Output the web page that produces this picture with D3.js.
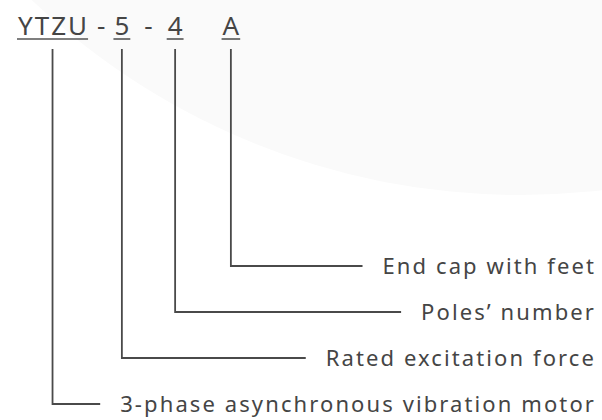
<!DOCTYPE html>
<html>
<head>
<meta charset="utf-8">
<script src="https://cdn.jsdelivr.net/npm/d3@7"></script>
<style>
  body { margin: 0; background: #fff; }
  svg { display: block; }
  text { font-family: "Noto Sans", "Open Sans", sans-serif; fill: #454545; }
</style>
</head>
<body>
<div id="chart"></div>
<script>
// parts of the model code, in the order they are written
const codeParts = ['YTZU', '-', '5', '-', '4', 'A'];
// which parts get an underline and a leader line
const codeIsField = [true, false, true, false, true, true];
// meaning of each field, from the last field (top row) to the first (bottom row)
const meanings = [
    'End cap with feet',
    "Poles\u2019 number",
    'Rated excitation force',
    '3-phase asynchronous vibration motor'
];

const width = 602;
const height = 420;
// space after each code part
const gapAfter = [10, 9, 15, 15, 40, 0];

const svg = d3.select('#chart')
    .append('svg')
        .attr('width', width)
        .attr('height', height);

// faint background disc
svg.append('circle')
    .attr('cx', 520)
    .attr('cy', -514)
    .attr('r', 709)
    .attr('fill', '#fafafa');

// rows of the explanations
const yRow = d3.scaleLinear()
    .domain([0, meanings.length - 1])
    .range([266, 404]);

// code line, laid out left to right
const codeG = svg.append('g');
const ls = 2;
let x = 18;
const fields = [];
codeParts.forEach((part, i) => {
    const t = codeG.append('text')
        .attr('x', x)
        .attr('y', 35)
        .attr('font-size', 26)
        .attr('letter-spacing', ls)
        .text(part);
    const w = t.node().getComputedTextLength() - ls;
    if (codeIsField[i]) {
        codeG.append('line')
            .attr('x1', x - 1).attr('x2', x + w + 1)
            .attr('y1', 39).attr('y2', 39)
            .attr('stroke', '#555')
            .attr('stroke-width', 1.6);
        fields.push(x + w / 2);
    }
    x += w + gapAfter[i];
});

const rightEdge = 596;
const linesG = svg.append('g');
const textG = svg.append('g');

// last field goes to the top row
fields.slice().reverse().forEach((fx, i) => {
    const y = yRow(i);
    const label = textG.append('text')
        .attr('x', rightEdge)
        .attr('y', y)
        .attr('dy', '0.35em')
        .attr('text-anchor', 'end')
        .attr('font-size', 22)
        .attr('letter-spacing', 2.1)
        .text(meanings[i]);
    const textStart = rightEdge - label.node().getComputedTextLength();
    linesG.append('path')
        .attr('d', d3.line()([[fx, 49], [fx, y], [textStart - 20, y]]))
        .attr('fill', 'none')
        .attr('stroke', '#4a4a4a')
        .attr('stroke-width', 1.8);
});
</script>
</body>
</html>
